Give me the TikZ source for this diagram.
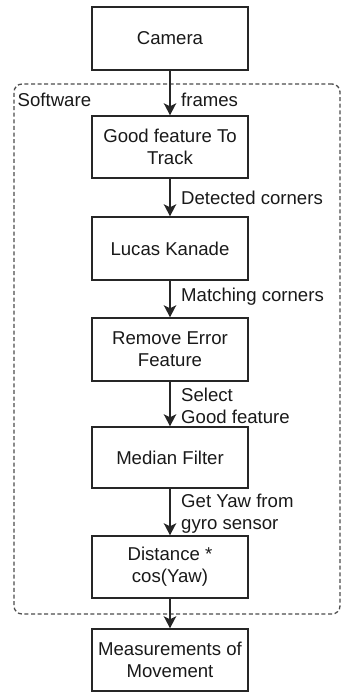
\documentclass[tikz,border=0pt]{standalone}
\usepackage{fontspec}
\setmainfont{Liberation Sans}
\usetikzlibrary{arrows.meta}
\begin{document}
\begin{tikzpicture}[x=1pt,y=-1pt,
  box/.style={draw=black!85, line width=1.5pt, minimum width=156pt, inner sep=0pt, align=center, font=\fontsize{18.6}{22}\selectfont, text=black!90},
  lbl/.style={anchor=west, inner sep=0pt, align=left, font=\fontsize{18.6}{22}\selectfont, text=black!90},
  flow/.style={draw=black!85, line width=1.3pt, -{Stealth[length=12pt, width=12.5pt, inset=3pt]}},
  swbox/.style={draw=black!70, line width=1.3pt, dash pattern=on 4pt off 2.6pt, rounded corners=8pt, minimum width=326pt, minimum height=530pt, inner sep=0pt}
]
\useasboundingbox (0,0) rectangle (340,692);
\node[swbox] (sw) at (177,349) {};
\node[lbl] (swl) at (17.5,99.5) {Software};

\node[box, minimum height=63pt] (cam) at (170,38.5) {Camera};
\node[box, minimum height=62pt] (gftt) at (170,147) {Good feature To\\Track};
\node[box, minimum height=63pt] (lk) at (170,248.5) {Lucas Kanade};
\node[box, minimum height=63pt] (re) at (170,349.5) {Remove Error\\Feature};
\node[box, minimum height=61pt] (mf) at (170,457.5) {Median Filter};
\node[box, minimum height=62pt] (dc) at (170,567) {Distance *\\cos(Yaw)};
\node[box, minimum height=62pt] (mm) at (170,660) {Measurements of\\Movement};

\draw[flow] (cam.south) -- (gftt.north);
\draw[flow] (gftt.south) -- (lk.north);
\draw[flow] (lk.south) -- (re.north);
\draw[flow] (re.south) -- (mf.north);
\draw[flow] (mf.south) -- (dc.north);
\draw[flow] (dc.south) -- (mm.north);

\node[lbl] (l1) at (181,99.5) {frames};
\node[lbl] (l2) at (181,197.7) {Detected corners};
\node[lbl] (l3) at (181,296.7) {Matching corners};
\node[lbl] (l4) at (181,405.5) {Select\\Good feature};
\node[lbl] (l5) at (181,514) {Get Yaw from\\gyro sensor};
\end{tikzpicture}
\end{document}
